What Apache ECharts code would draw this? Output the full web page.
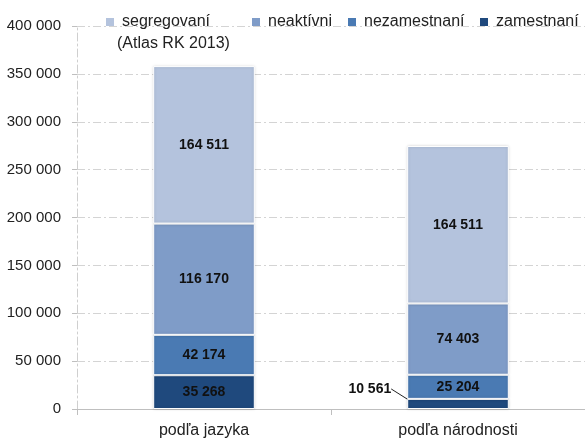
<!DOCTYPE html>
<html lang="sk">
<head>
    <meta charset="utf-8">
    <title>Rómovia</title>
    <script src="https://cdn.jsdelivr.net/npm/echarts@6/dist/echarts.min.js"></script>
    <style>
        html, body { margin: 0; padding: 0; background: #fff; }
    </style>
</head>
<body>
<div id="main" style="width: 585px;height:442px;"></div>

<script type="text/javascript">
    var categories = ['podľa jazyka', 'podľa národnosti'];
    var zamestnani = [35268, 10561];
    var nezamestnani = [42174, 25204];
    var neaktivni = [116170, 74403];
    var segregovani = [164511, 164511];
    var yTicks = [0, 50000, 100000, 150000, 200000, 250000, 300000, 350000, 400000];

    var myChart = echarts.init(document.getElementById('main'));

    function fmt(v) {
        return String(v).replace(/\B(?=(\d{3})+(?!\d))/g, ' ');
    }

    var font = '"Liberation Sans", Arial, sans-serif';
    var barLabel = {
        show: true,
        position: 'inside',
        color: '#111',
        fontWeight: 'bold',
        fontSize: 14,
        fontFamily: font,
        formatter: function (p) { return fmt(p.value); }
    };
    var itemBase = {
        borderColor: '#fff',
        borderWidth: 1,
        shadowColor: 'rgba(0,0,0,0.18)',
        shadowBlur: 3
    };

    function bar(name, data, color) {
        return {
            name: name,
            type: 'bar',
            stack: 'total',
            barWidth: '40%',
            data: data,
            itemStyle: Object.assign({color: color}, itemBase),
            label: barLabel
        };
    }

    var s4 = bar('zamestnaní', zamestnani, '#1f497d');
    // small value on the right bar: label moved out to the left with a leader line
    s4.data = zamestnani.map(function (v, i) {
        if (i === 1) {
            return {value: v, label: {position: 'left', distance: 0}};
        }
        return v;
    });
    s4.labelLayout = function (p) {
        if (p.dataIndex === 1) {
            return {dx: -16, dy: -15};
        }
    };
    s4.labelLine = {show: true, lineStyle: {color: '#222', width: 1}};

    var legendText = {fontSize: 16, color: '#222', fontFamily: font, padding: [6, 0, 0, 3]};
    function legend(name, left) {
        return {
            data: [name],
            left: left,
            top: 9,
            icon: 'rect',
            itemWidth: 8,
            itemHeight: 8,
            itemStyle: {borderWidth: 0, shadowBlur: 0},
            textStyle: legendText
        };
    }

    var option = {
        animation: false,
        textStyle: {fontFamily: font},
        grid: {left: 77, right: 0, top: 26, bottom: 33},
        legend: [
            legend('segregovaní', 101),
            legend('neaktívni', 247),
            legend('nezamestnaní', 343),
            legend('zamestnaní', 475)
        ],
        graphic: [{
            type: 'text',
            left: 117,
            top: 36,
            style: {text: '(Atlas RK 2013)', fontSize: 16, fill: '#222', fontFamily: font}
        }],
        xAxis: {
            type: 'category',
            data: categories,
            axisLine: {lineStyle: {color: '#bfbfbf'}},
            axisTick: {show: true, length: 6, lineStyle: {color: '#bfbfbf'}},
            axisLabel: {fontSize: 16, color: '#222', margin: 14}
        },
        yAxis: {
            type: 'value',
            min: yTicks[0],
            max: yTicks[yTicks.length - 1],
            interval: yTicks[1] - yTicks[0],
            axisLine: {show: true, lineStyle: {color: '#cfcfcf', type: [8, 3, 2, 3]}},
            axisTick: {show: true, length: 5, lineStyle: {color: '#bfbfbf'}},
            axisLabel: {fontSize: 15, color: '#222', margin: 16, formatter: fmt},
            splitLine: {lineStyle: {color: '#d4d4d4', type: [8, 3, 2, 3]}}
        },
        series: [
            s4,
            bar('nezamestnaní', nezamestnani, '#4a7ab3'),
            bar('neaktívni', neaktivni, '#7f9cc8'),
            bar('segregovaní', segregovani, '#b4c3dd')
        ]
    };

    myChart.setOption(option);
</script>

</body>
</html>
